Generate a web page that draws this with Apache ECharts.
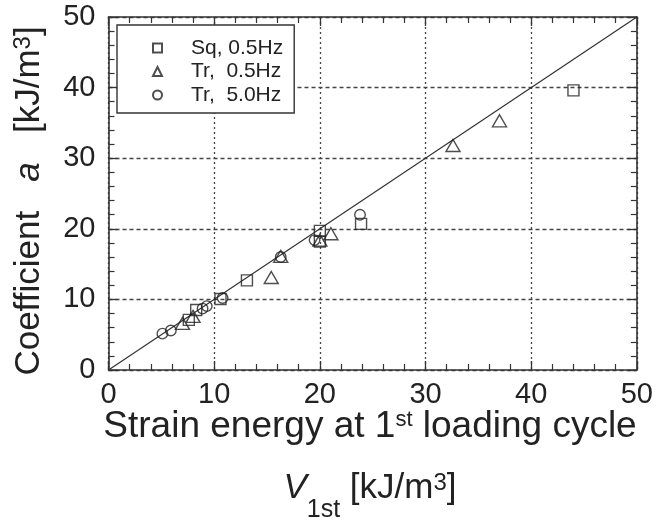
<!DOCTYPE html>
<html>
<head>
<meta charset="utf-8">
<script src="https://cdn.jsdelivr.net/npm/echarts@6/dist/echarts.min.js"></script>
<style>html,body{margin:0;padding:0;background:#fff}#c{width:656px;height:525px}</style>
</head>
<body>
<div id="c"></div>
<script>
// Data: [V_1st, coefficient a]
var sqData = [[7.6,7.1],[8.3,8.5],[10.6,10.05],[13.1,12.7],[20.0,19.7],[20.0,18.2],[23.9,20.7],[44.0,39.6]];
var trData = [[7.0,6.6],[8.0,7.6],[15.4,13.1],[16.3,16.1],[20.0,18.4],[21.05,19.3],[32.6,31.8],[37.0,35.3]];
var tr5Data = [[5.1,5.15],[5.9,5.6],[8.9,8.7],[9.3,9.05],[10.8,10.2],[16.3,16.0],[19.5,18.4],[23.8,22.0]];
var lineData = [[0,0],[50,50]];
var seriesNames = ['Sq, 0.5Hz', 'Tr,  0.5Hz', 'Tr,  5.0Hz'];
var axisMin = 0, axisMax = 50, axisStep = 10;

var FONT = 'Liberation Sans';
var INK = '#222';
var chart = echarts.init(document.getElementById('c'));

function baseAxis(pos, showLabel, gridType) {
  return {
    type: 'value', position: pos, min: axisMin, max: axisMax, interval: axisStep,
    axisLine: {show: true, onZero: false, lineStyle: {color: '#333', width: 1.6}},
    axisTick: {show: true, inside: true, length: 9, lineStyle: {color: '#333', width: 1.3}},
    minorTick: {show: true, splitNumber: 5, length: 6, lineStyle: {color: '#333', width: 1.2}},
    axisLabel: {show: showLabel, fontFamily: FONT, fontSize: 29, color: INK, margin: pos === 'bottom' ? 10 : 13},
    splitLine: gridType ? {show: true, lineStyle: {color: '#444', width: 1.3, type: gridType}} : {show: false},
    minorSplitLine: {show: false}
  };
}

var symStyle = {color: 'transparent', borderColor: '#222', borderWidth: 1.4};

chart.setOption({
  animation: false,
  backgroundColor: '#fff',
  grid: {left: 108.5, right: 19, top: 17, bottom: 155, containLabel: false},
  xAxis: [baseAxis('bottom', true, [2, 3]), baseAxis('top', false, null)],
  yAxis: [baseAxis('left', true, [4, 3]), baseAxis('right', false, null)],
  legend: {
    show: true, orient: 'vertical', left: 117, top: 25,
    data: seriesNames,
    itemWidth: 9, itemHeight: 9, itemGap: 2.5,
    padding: [12.5, 11, 7.5, 35],
    borderColor: '#333', borderWidth: 1.4, backgroundColor: '#fff',
    textStyle: {fontFamily: FONT, fontSize: 21, color: INK, lineHeight: 21, padding: [0, 0, 0, 24]},
    selectedMode: false
  },
  series: [
    {type: 'line', data: lineData, showSymbol: false, symbol: 'none', silent: true,
     lineStyle: {color: '#333', width: 1.2}, z: 1},
    {name: seriesNames[0], type: 'scatter', data: sqData, symbol: 'rect', symbolSize: 11, itemStyle: symStyle, z: 3},
    {name: seriesNames[1], type: 'scatter', data: trData, symbol: 'triangle', symbolSize: [14, 12], itemStyle: symStyle, z: 3},
    {name: seriesNames[2], type: 'scatter', data: tr5Data, symbol: 'circle', symbolSize: 10.5, itemStyle: symStyle, z: 3}
  ],
  graphic: [
    {type: 'text', x: 29, y: 201, rotation: Math.PI / 2,
     style: {text: 'Coefficient   {i|a}   [kJ/m{s|3}]', fontFamily: FONT, fontSize: 35, fill: INK,
       textAlign: 'center', textVerticalAlign: 'middle',
       rich: {i: {fontStyle: 'italic', fontFamily: FONT, fontSize: 35, fill: INK},
              s: {fontFamily: FONT, fontSize: 24, fill: INK, verticalAlign: 'top', lineHeight: 26}}}},
    {type: 'text', x: 370, y: 428,
     style: {text: '{m|Strain energy at 1}{s|st}{m| loading cycle}', fontFamily: FONT, fontSize: 37, fill: INK,
       textAlign: 'center', textVerticalAlign: 'middle',
       rich: {m: {fontFamily: FONT, fontSize: 37, fill: INK, verticalAlign: 'top', lineHeight: 39},
              s: {fontFamily: FONT, fontSize: 22, fill: INK, verticalAlign: 'top', lineHeight: 24}}}},
    {type: 'text', x: 370, y: 497,
     style: {text: '{v|V}{b|1st}{m| [kJ/m}{s|3}{m|]}', fontFamily: FONT, fontSize: 35, fill: INK,
       textAlign: 'center', textVerticalAlign: 'middle',
       rich: {v: {fontFamily: FONT, fontStyle: 'italic', fontSize: 35, fill: INK, verticalAlign: 'top', lineHeight: 36},
              m: {fontFamily: FONT, fontSize: 35, fill: INK, verticalAlign: 'top', lineHeight: 36},
              b: {fontFamily: FONT, fontSize: 25, fill: INK, verticalAlign: 'bottom', lineHeight: 52},
              s: {fontFamily: FONT, fontSize: 24, fill: INK, verticalAlign: 'top', lineHeight: 24}}}}
  ]
});
</script>
</body>
</html>
